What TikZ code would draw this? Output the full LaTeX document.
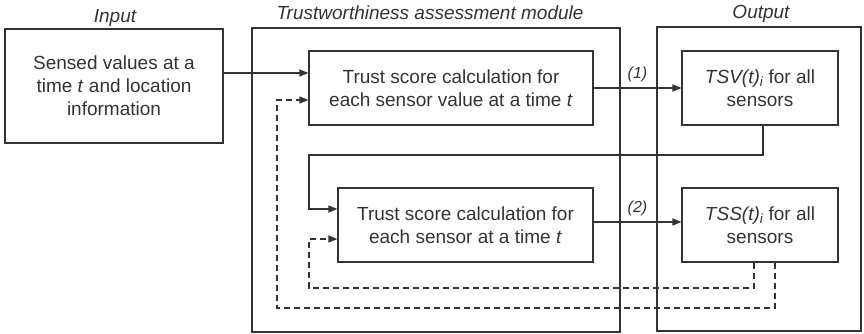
\documentclass[tikz,border=0pt]{standalone}
\usepackage{fontspec}
\setmainfont{Liberation Sans}
\usetikzlibrary{arrows.meta}
\definecolor{ink}{HTML}{333333}
\begin{document}
\begin{tikzpicture}[x=1pt,y=-1pt,
  every node/.style={text=ink},
  box/.style={draw=ink,line width=1.2pt,rectangle,align=center,inner sep=0pt,
    font=\fontsize{19}{23}\selectfont},
  frame/.style={draw=ink,line width=1.2pt,rectangle,inner sep=0pt},
  ttl/.style={font=\fontsize{19}{23}\selectfont\itshape},
  num/.style={font=\fontsize{16}{19}\selectfont\itshape},
  arr/.style={draw=ink,line width=1.2pt,-{Triangle[length=9pt,width=7pt]}},
  darr/.style={arr,dash pattern=on 6pt off 4pt},
  ln/.style={draw=ink,line width=1.2pt}]
\useasboundingbox (0,0) rectangle (864,334);
% frames
\node[frame,minimum width=368pt,minimum height=304pt] (module) at (436,180) {};
\node[frame,minimum width=204pt,minimum height=304pt] (output) at (759,179) {};
\node[ttl] (tin) at (115,18) {Input};
\node[ttl] (tmod) at (430,13) {Trustworthiness assessment module};
\node[ttl] (tout) at (761,14) {Output};
% boxes
\node[box,minimum width=218pt,minimum height=114pt] (input) at (114,86)
  {Sensed values at a\\time \textit{t} and location\\information};
\node[box,minimum width=284pt,minimum height=74pt] (b1) at (451,88)
  {Trust score calculation for\\each sensor value at a time \textit{t}};
\node[box,minimum width=156pt,minimum height=74pt] (b2) at (760,88)
  {\textit{TSV(t)\textsubscript{i}} for all\\sensors};
\node[box,minimum width=255pt,minimum height=74pt] (b3) at (465.5,225)
  {Trust score calculation for\\each sensor at a time \textit{t}};
\node[box,minimum width=156pt,minimum height=74pt] (b4) at (760,225)
  {\textit{TSS(t)\textsubscript{i}} for all\\sensors};
% connectors
\coordinate (in1) at ([yshift=15pt]b1.west);
\draw[arr] (input.east |- in1) -- (in1);
\draw[arr] (b1.east) -- node[num,above=2pt,pos=0.5] (l1) {(1)} (b2.west);
\coordinate (o2) at ([yshift=3pt]b3.east);
\draw[arr] (o2) -- node[num,above=2pt,pos=0.5] (l2) {(2)} (b4.west |- o2);
% solid feedback TSV -> b3
\coordinate (s1) at ([xshift=3pt]b2.south);
\coordinate (in3) at ([yshift=16pt]b3.west);
\draw[arr] (s1) -- (s1 |- 0,155) -- (309,155) -- (309,0 |- in3) -- (in3);
% dashed feedback TSS -> b1 (outer)
\coordinate (d1) at ([xshift=15pt]b4.south);
\coordinate (in1d) at ([yshift=-12pt]b1.west);
\draw[darr] (d1) -- (d1 |- 0,308) -- (277,308) -- (277,0 |- in1d) -- (in1d);
% dashed feedback TSS -> b3 (inner)
\coordinate (d2) at ([xshift=-6pt]b4.south);
\coordinate (in3d) at ([yshift=-14pt]b3.west);
\draw[darr] (d2) -- (d2 |- 0,288) -- (309,288) -- (309,0 |- in3d) -- (in3d);
\end{tikzpicture}
\end{document}
